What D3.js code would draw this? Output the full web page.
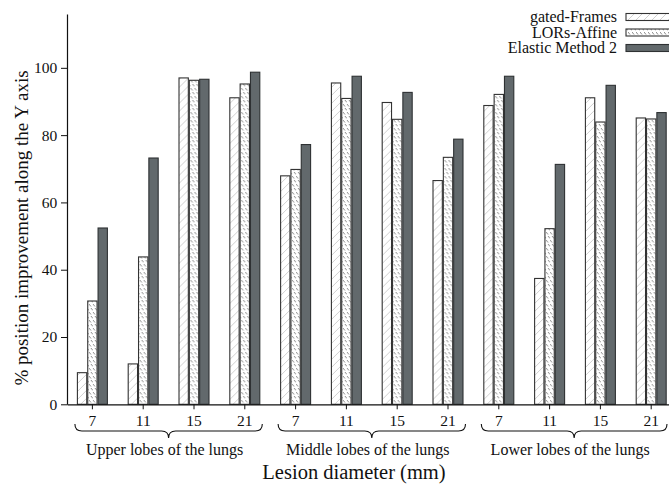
<!DOCTYPE html>
<html><head><meta charset="utf-8">
<script src="https://cdn.jsdelivr.net/npm/d3@7"></script>
<style>body{margin:0;background:#fff}svg{display:block}text{font-family:"Liberation Serif","DejaVu Serif",serif;fill:#111}</style>
</head><body>
<svg id="c" width="669" height="484"></svg>
<script>
const groups = ["Upper lobes of the lungs","Middle lobes of the lungs","Lower lobes of the lungs"];
const diameters = ["7","11","15","21"];
const series = ["gated-Frames","LORs-Affine","Elastic Method 2"];
const gatedFrames = [9.4,12.0,97.0,91.1, 67.9,95.5,89.7,66.5, 88.8,37.4,91.1,85.1];
const lorsAffine  = [30.7,43.8,96.3,95.2, 69.8,90.9,84.7,73.4, 92.1,52.2,83.9,84.8];
const elastic2    = [52.4,73.2,96.6,98.7, 77.2,97.5,92.7,78.8, 97.5,71.3,94.8,86.7];
const yTicks = [0,20,40,60,80,100];

const svg = d3.select("#c");
const defs = svg.append("defs");
const p1 = defs.append("pattern").attr("id","hatch1").attr("patternUnits","userSpaceOnUse")
  .attr("width",8).attr("height",8);
p1.append("rect").attr("width",8).attr("height",8).attr("fill","#fff");
p1.append("path").attr("d","M-2,10 L10,-2 M-2,2 L2,-2 M6,10 L10,6").attr("stroke","#c4c4c4").attr("stroke-width",0.8);
const p2 = defs.append("pattern").attr("id","hatch2").attr("patternUnits","userSpaceOnUse")
  .attr("width",4).attr("height",8);
p2.append("rect").attr("width",4).attr("height",8).attr("fill","#fff");
p2.append("path").attr("d","M0,0 L2,2.5 M2,4 L4,6.5").attr("stroke","#8a8a8a").attr("stroke-width",1);

const keys = [];
groups.forEach((g,gi)=>diameters.forEach((d,di)=>keys.push(gi+"-"+d)));
const data = keys.map((k,i)=>({key:k, vals:[gatedFrames[i],lorsAffine[i],elastic2[i]]}));

const x = d3.scaleBand().domain(keys).range([67,676.6]).paddingInner(0.39).paddingOuter(0.195);
const xs = d3.scaleBand().domain(series).range([0,x.bandwidth()]);
const y = d3.scaleLinear().domain([0,116]).range([404.3,14]);

const fills = ["url(#hatch1)","url(#hatch2)","#62696c"];
const strokes = ["#333","#333","#2e3133"];

svg.append("g").selectAll("g").data(data).join("g")
  .attr("transform",d=>`translate(${x(d.key)},0)`)
  .selectAll("rect").data(d=>d.vals.map((v,i)=>({v,s:series[i],i})))
  .join("rect")
  .attr("x",d=>xs(d.s)+0.5).attr("width",xs.bandwidth()-1)
  .attr("y",d=>y(d.v)).attr("height",d=>y(0)-y(d.v))
  .attr("fill",d=>fills[d.i]).attr("stroke",d=>strokes[d.i]).attr("stroke-width",1.1);

// axes
const xa = svg.append("g").attr("transform",`translate(0,${y(0)})`)
  .call(d3.axisBottom(x).tickSize(5).tickSizeOuter(0).tickFormat(k=>k.split("-")[1]));
xa.selectAll("text").attr("font-size",15.5).attr("dy","0.9em");
const ya = svg.append("g").attr("transform",`translate(67,0)`)
  .call(d3.axisLeft(y).tickValues(yTicks).tickSize(6).tickSizeOuter(0));
ya.selectAll("text").attr("font-size",15.5).attr("dx","-0.05em");
svg.selectAll(".domain").attr("stroke","#111").attr("stroke-width",1.2);
svg.selectAll(".tick line").attr("stroke","#111");
svg.selectAll(".tick text").style("font-family",'"Liberation Serif",serif').attr("fill","#111");

// braces
groups.forEach((g,gi)=>{
  const first = gi+"-"+diameters[0], last = gi+"-"+diameters[diameters.length-1];
  const x0 = x(first)-2, x1 = Math.min(x(last)+x.bandwidth()+2, 667);
  const xm = (x0+x1)/2, yt = 424, yl = 431, yb = 438;
  const r = 7;
  const d = `M${x0},${yt} Q${x0},${yl} ${x0+r},${yl} L${xm-r},${yl} Q${xm},${yl} ${xm},${yb} Q${xm},${yl} ${xm+r},${yl} L${x1-r},${yl} Q${x1},${yl} ${x1},${yt}`;
  svg.append("path").attr("d",d).attr("fill","none").attr("stroke","#111").attr("stroke-width",1.1);
  svg.append("text").attr("x",xm-4).attr("y",455).attr("text-anchor","middle").attr("font-size",16).text(g);
});

svg.append("text").attr("x",354).attr("y",479).attr("text-anchor","middle").attr("font-size",20.5).text("Lesion diameter (mm)");
svg.append("text").attr("transform","translate(28,228) rotate(-90)").attr("text-anchor","middle").attr("font-size",19)
  .text("% position improvement along the Y axis");

// legend
const lg = svg.append("g");
series.forEach((s,i)=>{
  const yy = 17+i*15.5;
  lg.append("text").attr("x",617).attr("y",yy+5).attr("text-anchor","end").attr("font-size",16).text(s);
  lg.append("rect").attr("x",626).attr("y",yy-3.5).attr("width",60).attr("height",7)
    .attr("fill",fills[i]).attr("stroke",strokes[i]).attr("stroke-width",1.1);
});
</script>
</body></html>
